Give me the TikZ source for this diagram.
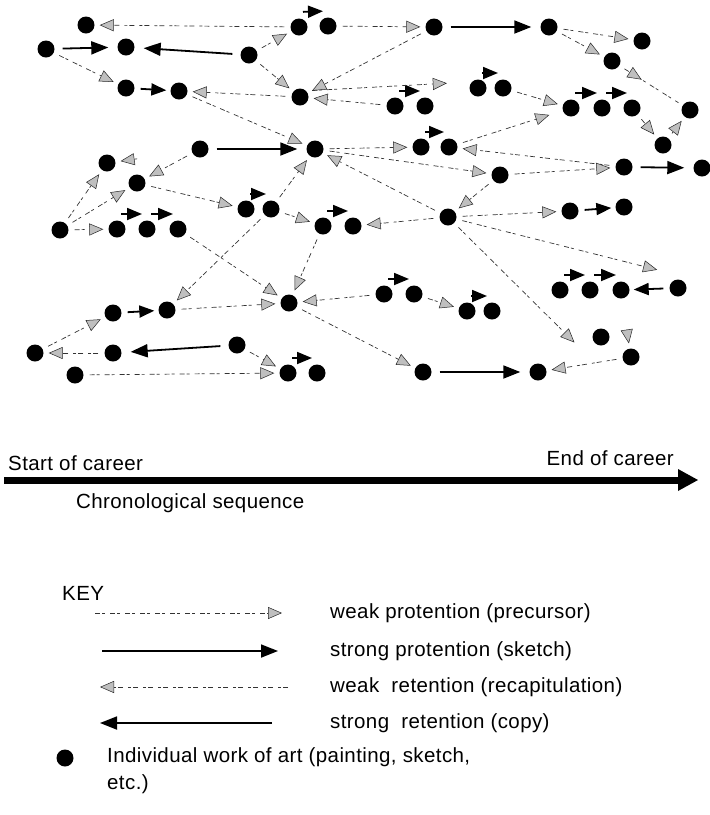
\documentclass[tikz,border=0pt]{standalone}
\usepackage{fontspec}
\setmainfont{Liberation Sans}[LetterSpace=2]
\usepackage{tikz}
\usetikzlibrary{arrows.meta}
\usetikzlibrary{decorations.markings}
\tikzset{
  % tip for the weak links
  wtip/.tip={Triangle[length=14pt,width=12pt,fill=gray!50,color=gray!30!black,line width=0.5pt]},
  % one work of art
  work/.style={circle,fill=black,inner sep=0pt,minimum size=17pt},
  % weak protention / retention
  weak/.style={draw=gray!40!black,line width=0.7pt,dash pattern=on 5pt off 2pt on 3pt off 5pt,-{wtip},shorten <=6pt,shorten >=5pt},
  % strong protention / retention
  strong/.style={draw=black,line width=1.8pt,-{Triangle[length=17pt,width=13pt]},shorten <=8pt,shorten >=9pt},
  % strong link between close works
  short/.style={draw=black,line width=1.8pt,-{Triangle[length=15pt,width=12pt]},shorten <=6pt,shorten >=4pt},
  % strong link drawn over a pair
  over/.style={draw=black,line width=1.8pt,-{Triangle[length=15pt,width=12pt]},shorten <=4pt,shorten >=5pt},
  % weak head part way along the line
  head at/.style={postaction={decorate,decoration={markings,
        mark=at position #1 with {\arrow{wtip}}}}},
  txt/.style={anchor=west,inner sep=0pt},
}

\begin{document}
\begin{tikzpicture}[x=1pt,y=-1pt,font=\fontsize{20.5}{27}\selectfont]
    \useasboundingbox (0,0) rectangle (710,815);
    % works of art
    \node[work] (p1) at (86,25) {};
    \node[work] (p2) at (46,49) {};
    \node[work] (p3) at (126,47) {};
    \node[work] (p4) at (249,55) {};
    \node[work] (p5) at (126,88) {};
    \node[work] (p6) at (179,91) {};
    \node[work] (p7) at (300,97) {};
    \node[work] (p8) at (299,27) {};
    \node[work] (p9) at (328,26) {};
    \node[work] (p10) at (434,27) {};
    \node[work] (p11) at (549,27) {};
    \node[work] (p12) at (642,41) {};
    \node[work] (p13) at (612,61) {};
    \node[work] (p14) at (478,88) {};
    \node[work] (p15) at (503,88) {};
    \node[work] (p16) at (395,106) {};
    \node[work] (p17) at (425,106) {};
    \node[work] (p18) at (571,108) {};
    \node[work] (p19) at (602,108) {};
    \node[work] (p20) at (632,108) {};
    \node[work] (p21) at (690,110) {};
    \node[work] (p22) at (663,145) {};
    \node[work] (p23) at (624,167) {};
    \node[work] (p24) at (702,168) {};
    \node[work] (p25) at (421,147) {};
    \node[work] (p26) at (449,147) {};
    \node[work] (p27) at (500,175) {};
    \node[work] (p28) at (200,149) {};
    \node[work] (p29) at (315,149) {};
    \node[work] (p30) at (107,163) {};
    \node[work] (p31) at (137,183) {};
    \node[work] (p32) at (60,230) {};
    \node[work] (p33) at (117,229) {};
    \node[work] (p34) at (147,229) {};
    \node[work] (p35) at (178,229) {};
    \node[work] (p36) at (246,209) {};
    \node[work] (p37) at (271,209) {};
    \node[work] (p38) at (323,226) {};
    \node[work] (p39) at (353,226) {};
    \node[work] (p40) at (448,217) {};
    \node[work] (p41) at (570,211) {};
    \node[work] (p42) at (624,207) {};
    \node[work] (p43) at (560,290) {};
    \node[work] (p44) at (590,290) {};
    \node[work] (p45) at (621,290) {};
    \node[work] (p46) at (678,288) {};
    \node[work] (p47) at (384,294) {};
    \node[work] (p48) at (414,294) {};
    \node[work] (p49) at (467,311) {};
    \node[work] (p50) at (492,311) {};
    \node[work] (p51) at (289,303) {};
    \node[work] (p52) at (113,313) {};
    \node[work] (p53) at (167,310) {};
    \node[work] (p54) at (35,353) {};
    \node[work] (p55) at (113,353) {};
    \node[work] (p56) at (237,345) {};
    \node[work] (p57) at (75,375) {};
    \node[work] (p58) at (288,373) {};
    \node[work] (p59) at (317,373) {};
    \node[work] (p60) at (423,372) {};
    \node[work] (p61) at (538,372) {};
    \node[work] (p62) at (601,337) {};
    \node[work] (p63) at (631,357) {};
    % loose ends
    \coordinate (c1) at (662,271);
    \coordinate (c2) at (578,346);
    \coordinate (c3) at (626,325);
    \coordinate (c4) at (143,158);

    % strong links
    \draw[strong] (p2) -- (p3);
    \draw[strong] (p4) -- (p3);
    \draw[strong] (p10) -- (p11);
    \draw[strong] (p23) -- (p24);
    \draw[strong] (p28) -- (p29);
    \draw[strong] (p56) -- (p55);
    \draw[strong] (p60) -- (p61);
    \draw[short] (p5) -- (p6);
    \draw[short] (p41) -- (p42);
    \draw[short] (p46) -- (p45);
    \draw[short] (p52) -- (p53);
    \draw[over] ([yshift=15pt]p8.center) -- ([yshift=15pt]p9.center);
    \draw[over] ([yshift=15pt]p14.center) -- ([yshift=15pt]p15.center);
    \draw[over] ([yshift=15pt]p16.center) -- ([yshift=15pt]p17.center);
    \draw[over] ([yshift=15pt]p18.center) -- ([yshift=15pt]p19.center);
    \draw[over] ([yshift=15pt]p19.center) -- ([yshift=15pt]p20.center);
    \draw[over] ([yshift=15pt]p25.center) -- ([yshift=15pt]p26.center);
    \draw[over] ([yshift=15pt]p33.center) -- ([yshift=15pt]p34.center);
    \draw[over] ([yshift=15pt]p34.center) -- ([yshift=15pt]p35.center);
    \draw[over] ([yshift=15pt]p36.center) -- ([yshift=15pt]p37.center);
    \draw[over] ([yshift=15pt]p38.center) -- ([yshift=15pt]p39.center);
    \draw[over] ([yshift=15pt]p43.center) -- ([yshift=15pt]p44.center);
    \draw[over] ([yshift=15pt]p44.center) -- ([yshift=15pt]p45.center);
    \draw[over] ([yshift=15pt]p47.center) -- ([yshift=15pt]p48.center);
    \draw[over] ([yshift=15pt]p49.center) -- ([yshift=15pt]p50.center);
    \draw[over] ([yshift=15pt]p58.center) -- ([yshift=15pt]p59.center);

    % weak links
    \draw[weak] (p2) -- (p5);
    \draw[weak] (p4) -- (p8);
    \draw[weak] (p4) -- (p7);
    \draw[weak] (p8) -- (p1);
    \draw[weak] (p9) -- (p10);
    \draw[weak] (p7) -- (p6);
    \draw[weak] (p6) -- (p29);
    \draw[weak] (p10) -- (p7);
    \draw[weak] (p16) -- (p7);
    \draw[weak,shorten >=25pt] (p7.north east) -- (p14.north west);
    \draw[weak] (p15) -- (p18);
    \draw[weak,shorten >=14pt] (p26) -- (p18);
    \draw[weak] (p23) -- (p26);
    \draw[weak] (p11) -- (p12);
    \draw[weak] (p11) -- (p13);
    \draw[weak,-,head at=.35] (p13) -- (p21);
    \draw[weak] (p20) -- (p22);
    \draw[weak] (p22) -- (p21);
    \draw[weak] (p27) -- (p23);
    \draw[weak] (p29) -- (p25);
    \draw[weak] (p29) -- (p27);
    \draw[weak] (p27) -- (p40);
    \draw[weak] (p40) -- (p29);
    \draw[weak] (p40) -- (p39);
    \draw[weak] (p40) -- (p41);
    \draw[weak] (p40) -- (c1);
    \draw[weak] (p40) -- (c2);
    \draw[weak] (p28) -- (p31);
    \draw[weak] (c4) -- (p30);
    \draw[weak] (p32) -- (p30);
    \draw[weak] (p32) -- (p31);
    \draw[weak] (p32) -- (p33);
    \draw[weak] (p31) -- (p36);
    \draw[weak] (p37) -- (p29);
    \draw[weak] (p37) -- (p38);
    \draw[weak] (p37) -- (p53);
    \draw[weak] (p35) -- (p51);
    \draw[weak] (p38) -- (p51);
    \draw[weak] (p47) -- (p51);
    \draw[weak] (p53) -- (p51);
    \draw[weak] (p51) -- (p60);
    \draw[weak] (p48) -- (p49);
    \draw[weak] (p54) -- (p52);
    \draw[weak] (p55) -- (p54);
    \draw[weak] (p56) -- (p58);
    \draw[weak] (p57) -- (p58);
    \draw[weak] (p63) -- (p61);
    \draw[weak] (c3) -- (p63);

    % time line
    \coordinate (tstart) at (4,480);
    \coordinate (tend) at (698,480);
    \draw[line width=7pt,-{Triangle[length=20pt,width=22pt,line width=0pt]}] (tstart) -- (tend);
    \node[txt] (start) at (8,463) {Start of career};
    \node[txt,anchor=east] (finish) at (674,458) {End of career};
    \node[txt] (chrono) at (76,503) {Chronological sequence};

    % key
    \node[txt] (key) at (62,593) {KEY};
    \coordinate (k1a) at (95,613);
    \coordinate (k1b) at (282,613);
    \coordinate (k2a) at (102,651);
    \coordinate (k2b) at (278,651);
    \coordinate (k3a) at (288,687);
    \coordinate (k3b) at (100,687);
    \coordinate (k4a) at (272,723);
    \coordinate (k4b) at (100,723);
    \draw[weak,shorten <=0pt,shorten >=0pt] (k1a) -- (k1b);
    \draw[strong,shorten <=0pt,shorten >=0pt] (k2a) -- (k2b);
    \draw[weak,shorten <=0pt,shorten >=0pt] (k3a) -- (k3b);
    \draw[strong,shorten <=0pt,shorten >=0pt] (k4a) -- (k4b);
    \node[txt] (t1) at (330,613) {weak protention (precursor)};
    \node[txt] (t2) at (330,651) {strong protention (sketch)};
    \node[txt] (t3) at (330,687) {weak\ \ retention (recapitulation)};
    \node[txt] (t4) at (330,723) {strong\ \ retention (copy)};
    \node[work] (kw) at (65,758) {};
    \node[txt,align=left] (t5) at (107,771) {Individual work of art (painting, sketch,\\etc.)};
\end{tikzpicture}
\end{document}
